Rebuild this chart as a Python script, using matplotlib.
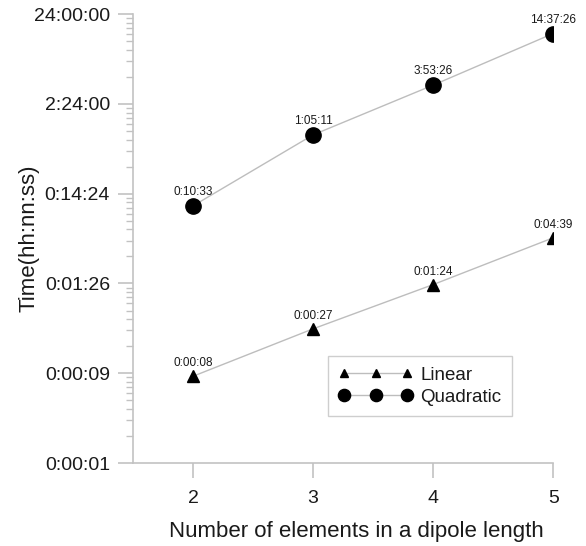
import matplotlib
matplotlib.use("Agg")
import matplotlib.pyplot as plt
from matplotlib.ticker import FixedLocator, FixedFormatter, NullFormatter

plt.rcParams['font.family'] = ['Liberation Sans', 'DejaVu Sans']

elements = [2, 3, 4, 5]
linear_sec = [8, 27, 84, 279]
linear_labels = ["0:00:08", "0:00:27", "0:01:24", "0:04:39"]
quad_sec = [633, 3911, 14006, 52646]
quad_labels = ["0:10:33", "1:05:11", "3:53:26", "14:37:26"]
ytick_vals = [0.864, 8.64, 86.4, 864, 8640, 86400]
ytick_labels = ["0:00:01", "0:00:09", "0:01:26", "0:14:24", "2:24:00", "24:00:00"]
xticks = [2, 3, 4, 5]

fig = plt.figure(figsize=(5.86, 5.46), dpi=100)
ax = fig.add_axes([0.227, 0.152, 0.717, 0.822])

axcol = '#c2c2c2'
txtcol = '#1a1a1a'
linecol = '#bdbdbd'

ax.plot(elements, linear_sec, color=linecol, lw=1.0, marker='^', ms=8,
        mfc='black', mec='black', label='Linear', zorder=3)
ax.plot(elements, quad_sec, color=linecol, lw=1.0, marker='o', ms=11,
        mfc='black', mec='black', label='Quadratic', zorder=3)

for x, y, t in zip(elements, linear_sec, linear_labels):
    ax.annotate(t, (x, y), xytext=(0, 5), textcoords='offset points',
                ha='center', va='bottom', fontsize=8.5, color=txtcol)
for x, y, t in zip(elements, quad_sec, quad_labels):
    ax.annotate(t, (x, y), xytext=(0, 5.5), textcoords='offset points',
                ha='center', va='bottom', fontsize=8.5, color=txtcol)

ax.set_yscale('log')
ax.set_ylim(ytick_vals[0], ytick_vals[-1])
ax.set_xlim(1.5, 5)
ax.yaxis.set_major_locator(FixedLocator(ytick_vals))
ax.yaxis.set_major_formatter(FixedFormatter(ytick_labels))
minors = [b * m for b in ytick_vals[:-1] for m in range(2, 10)]
ax.yaxis.set_minor_locator(FixedLocator(minors))
ax.yaxis.set_minor_formatter(NullFormatter())
ax.set_xticks(xticks)
ax.set_xticklabels([str(v) for v in xticks])

for s in ['top', 'right']:
    ax.spines[s].set_visible(False)
for s in ['left', 'bottom']:
    ax.spines[s].set_color(axcol)
    ax.spines[s].set_linewidth(1.2)

ax.tick_params(axis='both', which='major', colors=axcol, labelcolor=txtcol,
               labelsize=14, length=10.5, width=1.2, direction='out', pad=6)
ax.tick_params(axis='y', which='minor', colors=axcol, length=5, width=1.0)
ax.tick_params(axis='x', pad=9)

ax.set_xlabel('Number of elements in a dipole length', fontsize=16, color=txtcol, labelpad=10)
ax.xaxis.label.set_x(0.531)
ax.set_ylabel('Time(hh:nn:ss)', fontsize=16, color=txtcol, labelpad=-4)

leg = ax.legend(loc='lower right', bbox_to_anchor=(0.902, 0.105), numpoints=3,
                fontsize=13.5, frameon=True, fancybox=False, handlelength=4.0,
                handletextpad=0.4, borderpad=0.55, labelspacing=0.25,
                markerscale=0.8, borderaxespad=0)
leg.get_frame().set_edgecolor(axcol)
leg.get_frame().set_linewidth(1.0)
for t in leg.get_texts():
    t.set_color(txtcol)

fig.savefig('out.png', dpi=100, facecolor='white')
